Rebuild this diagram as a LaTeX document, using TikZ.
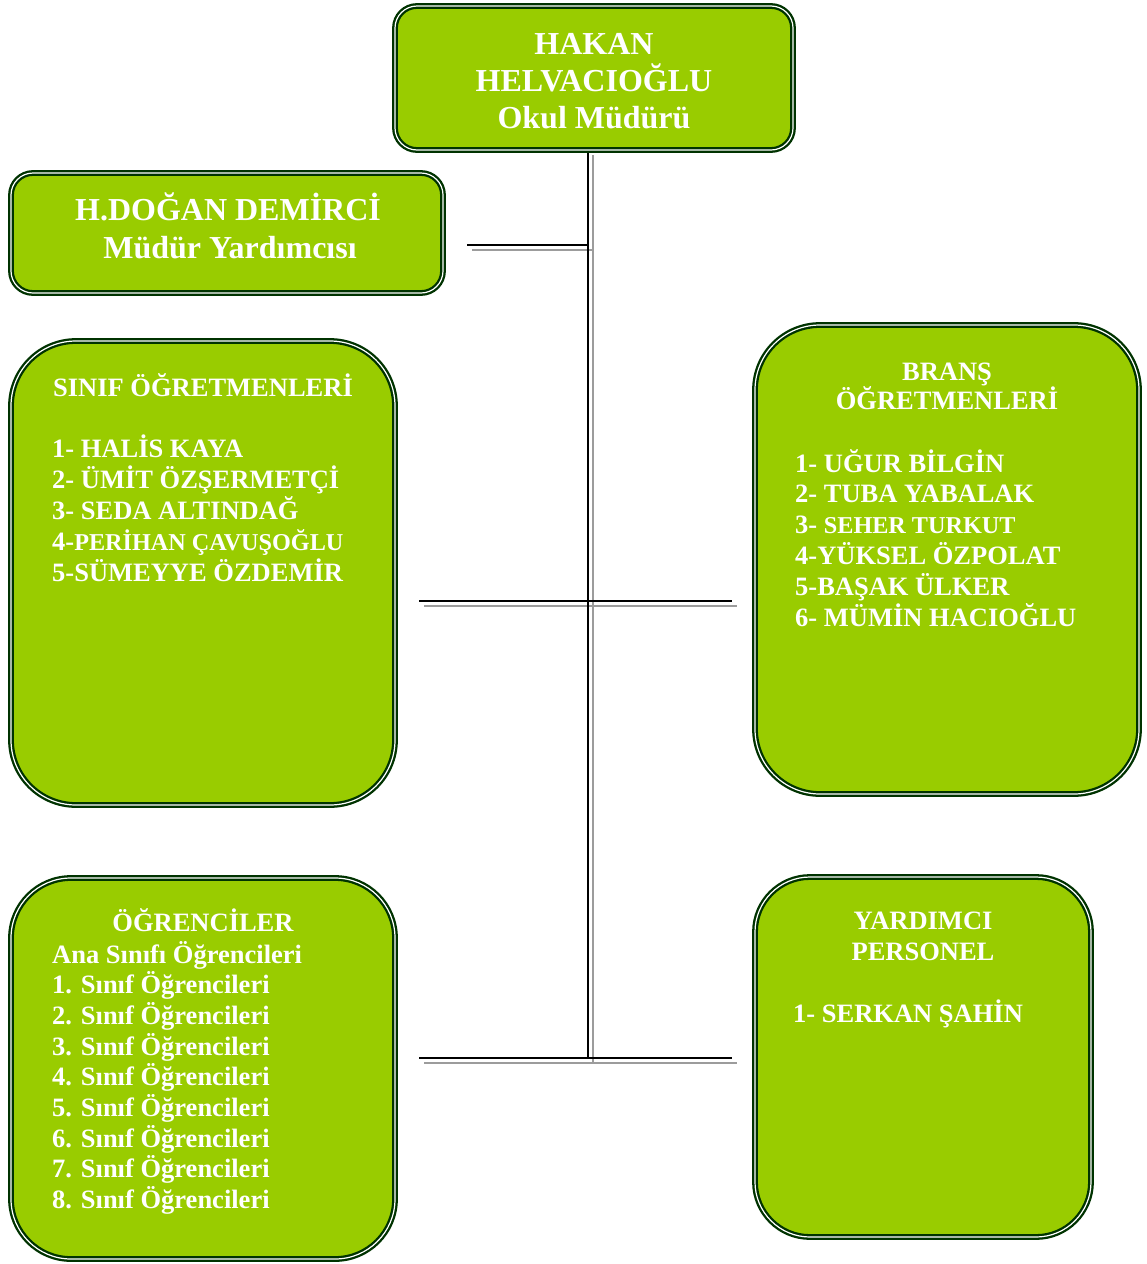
\documentclass[tikz,border=0pt]{standalone}
\usepackage{fontspec}
\setmainfont{Liberation Serif}
\definecolor{boxfill}{HTML}{99CC00}
\definecolor{boxline}{HTML}{003300}
\definecolor{shadowgray}{HTML}{9C9C9C}
\newcommand\smtxt{\fontsize{24.2}{31}\selectfont}
\begin{document}
\begin{tikzpicture}[x=1pt,y=-1pt,
  orgbox/.style={draw=boxline, double=white, double distance=1.2pt, line width=2.3pt,
    fill=boxfill, rounded corners=#1, inner sep=0pt},
  bigtxt/.style={text=white, font=\fontsize{32}{37}\selectfont\bfseries, inner sep=0pt},
  txt/.style={text=white, font=\fontsize{26.5}{31}\selectfont\bfseries, inner sep=0pt},
  conn/.style={line width=1.7pt, draw=black},
  connshade/.style={line width=2pt, draw=shadowgray}]
\useasboundingbox (0,0) rectangle (1147,1264);

% boxes
\node[orgbox=22pt, minimum width=398pt, minimum height=144pt] (mudur) at (594,78) {};
\node[orgbox=22pt, minimum width=432pt, minimum height=120pt] (yard) at (227,233) {};
\node[orgbox=65pt, minimum width=384pt, minimum height=464pt] (sinif) at (203,573) {};
\node[orgbox=65pt, minimum width=384pt, minimum height=469pt] (brans) at (947,559.5) {};
\node[orgbox=60pt, minimum width=384pt, minimum height=381pt] (ogr) at (203,1068.5) {};
\node[orgbox=55pt, minimum width=336pt, minimum height=360pt] (pers) at (923,1057) {};

% connector coordinates
\coordinate (vtop) at (588,153);
\coordinate (vbot) at (588,1058);
\coordinate (vtopS) at (592.5,155);
\coordinate (vbotS) at (592.5,1063);
\coordinate (h1a) at (467,245);   \coordinate (h1b) at (588,245);
\coordinate (h1aS) at (472,250);  \coordinate (h1bS) at (592.5,250);
\coordinate (h2a) at (419,601);   \coordinate (h2b) at (732,601);
\coordinate (h2aS) at (424,606);  \coordinate (h2bS) at (737,606);
\coordinate (h3a) at (419,1058);  \coordinate (h3b) at (732,1058);
\coordinate (h3aS) at (424,1063); \coordinate (h3bS) at (737,1063);

% shadows
\draw[connshade] (vtopS) -- (vbotS);
\draw[connshade] (h1aS) -- (h1bS);
\draw[connshade] (h2aS) -- (h2bS);
\draw[connshade] (h3aS) -- (h3bS);
% lines
\draw[conn] (vtop) -- (vbot);
\draw[conn] (h1a) -- (h1b);
\draw[conn] (h2a) -- (h2b);
\draw[conn] (h3a) -- (h3b);

% top box text
\node[bigtxt, anchor=base] (m1) at (594,54) {HAKAN};
\node[bigtxt, anchor=base] (m2) at (594,91) {HELVACIOĞLU};
\node[bigtxt, anchor=base] (m3) at (594,128) {Okul Müdürü};

% assistant
\node[bigtxt, anchor=base] (y1) at (228,220) {H.DOĞAN DEMİRCİ};
\node[bigtxt, anchor=base] (y2) at (230,258) {Müdür Yardımcısı};

% sinif
\node[txt, anchor=base] (sh) at (203,396) {SINIF ÖĞRETMENLERİ};
\foreach \t [count=\i] in {1- HALİS KAYA, 2- ÜMİT ÖZŞERMETÇİ, 3- SEDA ALTINDAĞ,
  {4-{\smtxt PERİHAN ÇAVUŞOĞLU}}, 5-SÜMEYYE ÖZDEMİR}
  \node[txt, anchor=base west] (s\i) at (52,{457+31*(\i-1)}) {\t};

% brans
\node[txt, anchor=base] (bh1) at (947,380) {BRANŞ};
\node[txt, anchor=base] (bh2) at (947,409) {ÖĞRETMENLERİ};
\foreach \t [count=\i] in {1- UĞUR BİLGİN, 2- TUBA YABALAK, {3- {\smtxt SEHER TURKUT}},
  4-YÜKSEL ÖZPOLAT, 5-BAŞAK ÜLKER, 6- MÜMİN HACIOĞLU}
  \node[txt, anchor=base west] (b\i) at (795,{472+30.8*(\i-1)}) {\t};

% ogrenciler
\node[txt, anchor=base] (oh) at (203,931) {ÖĞRENCİLER};
\foreach \t [count=\i] in {Ana Sınıfı Öğrencileri, 1. Sınıf Öğrencileri, 2. Sınıf Öğrencileri,
  3. Sınıf Öğrencileri, 4. Sınıf Öğrencileri, 5. Sınıf Öğrencileri, 6. Sınıf Öğrencileri,
  7. Sınıf Öğrencileri, 8. Sınıf Öğrencileri}
  \node[txt, anchor=base west] (o\i) at (52,{963+30.7*(\i-1)}) {\t};

% personel
\node[txt, anchor=base] (ph1) at (923,929) {YARDIMCI};
\node[txt, anchor=base] (ph2) at (923,960) {PERSONEL};
\node[txt, anchor=base west] (p1) at (793,1022) {1- SERKAN ŞAHİN};
\end{tikzpicture}
\end{document}
